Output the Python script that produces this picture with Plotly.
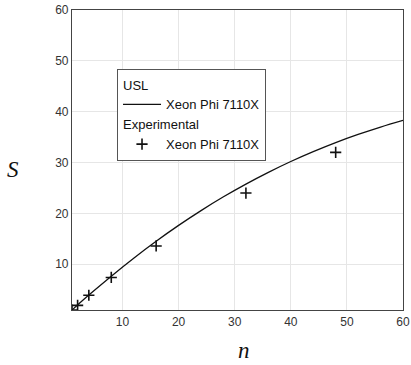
import plotly.graph_objects as go

# USL model curve
usl_n = [1, 4, 8, 12, 16, 20, 24, 28, 32, 36, 40, 44, 48, 52, 56, 60]
usl_s = [1.0, 3.93, 7.66, 11.20, 14.52, 17.64, 20.55, 23.26, 25.76, 28.07,
         30.2, 32.14, 33.92, 35.52, 36.98, 38.3]

# Experimental measurements
exp_n = [1, 2, 4, 8, 16, 32, 48]
exp_s = [1.0, 1.9, 3.9, 7.4, 13.6, 24.0, 32.0]

series_name = "Xeon Phi 7110X"
x_ticks = [10, 20, 30, 40, 50, 60]
y_ticks = [10, 20, 30, 40, 50, 60]

fig = go.Figure()
fig.add_trace(go.Scatter(
    x=usl_n, y=usl_s, mode="lines", line=dict(color="#111111", width=1.3, shape="spline"),
    name=series_name, legendgroup="usl", legendgrouptitle_text="USL",
))
fig.add_trace(go.Scatter(
    x=exp_n, y=exp_s, mode="markers",
    marker=dict(symbol="cross-thin", size=8, line=dict(color="#111111", width=1.6), color="#111111"),
    name=series_name, legendgroup="exp", legendgrouptitle_text="Experimental",
))

axis_common = dict(
    showline=True, linecolor="#444444", linewidth=1.2, mirror=True,
    showgrid=True, gridcolor="#e6e6e6", gridwidth=1,
    zeroline=False, ticks="", automargin=False,
    tickfont=dict(family="Liberation Sans, Arial", size=12, color="#333333"),
)

title_font = dict(family="Liberation Serif, DejaVu Serif", size=23, color="#111111")

fig.update_layout(
    width=411, height=365,
    margin=dict(l=72, r=8, t=10, b=55),
    paper_bgcolor="white", plot_bgcolor="white",
    showlegend=True,
    legend=dict(
        x=0.136, y=0.805, xanchor="left", yanchor="top",
        bgcolor="white", bordercolor="#555555", borderwidth=1,
        font=dict(family="Liberation Sans, Arial", size=13, color="#111111"),
        grouptitlefont=dict(family="Liberation Sans, Arial", size=13, color="#111111"),
        tracegroupgap=0, itemwidth=38,
    ),
    xaxis=dict(range=[1, 60], tickvals=x_ticks, **axis_common),
    yaxis=dict(range=[1, 60], tickvals=y_ticks, **axis_common),
    annotations=[
        dict(text="<i>S</i>", xref="paper", yref="paper", x=-0.178, y=0.467,
             xanchor="center", yanchor="middle", showarrow=False, font=title_font),
        dict(text="<i>n</i>", xref="paper", yref="paper", x=0.52, y=-0.135,
             xanchor="center", yanchor="middle", showarrow=False, font=title_font),
    ],
)

fig.write_html("out.html")
